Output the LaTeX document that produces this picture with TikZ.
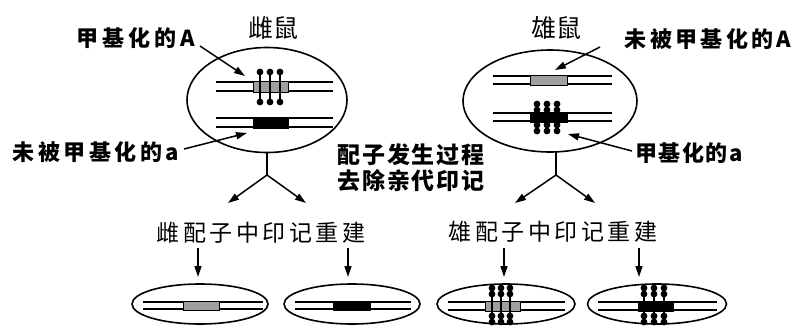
\documentclass[tikz,border=0pt]{standalone}
\usepackage{fontspec}
\usetikzlibrary{shapes.geometric,arrows.meta}
\newfontfamily\cjk{Noto Sans CJK SC}

% chromosome pair: two parallel strands
\newcommand\strands[4]{\draw[strand] (#1,#3) -- (#2,#3) (#1,#4) -- (#2,#4);}
% gene segment on a chromosome pair
\newcommand\gene[5]{\draw[line width=1pt,fill=#5] (#1,#3) rectangle (#2,#4);}
% methyl group column: stem with dots at the given heights
\newcommand\methylcol[3]{\draw[line width=1.3pt] (#1,#2) -- (#1,#3);}
\newcommand\mdot[2]{\fill (#1,#2) circle (3.4);}

\tikzset{
  cell/.style={draw,ellipse,line width=1.6pt,inner sep=0pt},
  strand/.style={line width=1.4pt},
  conn/.style={line width=1.5pt,-{Triangle[length=11pt,width=7pt]}},
  plain/.style={line width=1.5pt},
  tag/.style={inner sep=0pt,font=\cjk\bfseries\fontsize{22}{22}\selectfont},
  title/.style={inner sep=0pt,font=\cjk\fontsize{25}{25}\selectfont},
  note/.style={inner sep=0pt,font=\cjk\fontsize{23}{23}\selectfont},
}

\begin{document}
\begin{tikzpicture}[x=1pt,y=-1pt]
\useasboundingbox (0,0) rectangle (797,329);

% ---------- parent cells ----------
\node[cell,minimum width=160pt,minimum height=105pt] (fcell) at (267,100) {};
\node[cell,minimum width=174pt,minimum height=102pt] (mcell) at (550,101) {};

\node[title] (ftitle) at (273,28) {雌鼠};
\node[title] (mtitle) at (556,28) {雄鼠};

% female: methylated A
\strands{216}{333}{82}{91}
\gene{253}{288}{81}{92}{gray!75}
\foreach \x in {260,270,280}{\methylcol{\x}{72}{102}\mdot{\x}{72}\mdot{\x}{102}}
% female: unmethylated a
\strands{216}{333}{118}{127}
\gene{253}{288}{117}{128}{black}

% male: unmethylated A
\strands{493}{612}{76}{84}
\gene{530}{567}{75}{85}{gray!75}
% male: methylated a
\strands{493}{612}{113}{121}
\gene{530}{567}{112}{122}{black}
\foreach \x in {537,547,557}{\methylcol{\x}{104}{131}\mdot{\x}{104}\mdot{\x}{110}\mdot{\x}{125}\mdot{\x}{131}}

% ---------- labels ----------
\node[tag,font=\cjk\bfseries\fontsize{22}{22}\selectfont\addfontfeature{LetterSpace=18}] (lA) at (136,38) {甲基化的A};
\node[tag,font=\cjk\bfseries\fontsize{22}{22}\selectfont\addfontfeature{LetterSpace=16}] (la) at (96,152) {未被甲基化的a};
\node[tag,font=\cjk\bfseries\fontsize{22}{22}\selectfont\addfontfeature{LetterSpace=15}] (rA) at (708,39) {未被甲基化的A};
\node[tag,font=\cjk\bfseries\fontsize{22}{22}\selectfont\addfontfeature{LetterSpace=7}] (ra) at (689,153) {甲基化的a};

\coordinate (lAs) at (200,46);  \coordinate (lAt) at (245,76);
\coordinate (las) at (184,149); \coordinate (lat) at (247,133);
\coordinate (rAs) at (600,47);  \coordinate (rAt) at (555,70);
\coordinate (ras) at (632,151); \coordinate (rat) at (568,134);
\draw[conn] (lAs) -- (lAt);
\draw[conn] (las) -- (lat);
\draw[conn] (rAs) -- (rAt);
\draw[conn] (ras) -- (rat);

\node[note,font=\cjk\bfseries\fontsize{23}{23}\selectfont\addfontfeature{LetterSpace=8}] (proc1) at (411,155) {配子发生过程};
\node[note,font=\cjk\bfseries\fontsize{23}{23}\selectfont\addfontfeature{LetterSpace=8}] (proc2) at (411,181) {去除亲代印记};

% ---------- branching ----------
\coordinate (fb) at (267,175);
\coordinate (mtop) at (556,152);
\coordinate (mb) at (556,175);
\coordinate (fl) at (228,203); \coordinate (fr) at (306,203);
\coordinate (ml) at (515,203); \coordinate (mr) at (595,203);
\draw[plain] (fcell.south) -- (fb);
\draw[conn] (fb) -- (fl);
\draw[conn] (fb) -- (fr);
\draw[plain] (mtop) -- (mb);
\draw[conn] (mb) -- (ml);
\draw[conn] (mb) -- (mr);

\node[note,font=\cjk\fontsize{23}{23}\selectfont\addfontfeature{LetterSpace=15}] (fgam) at (261,233) {雌配子中印记重建};
\node[note,font=\cjk\fontsize{23}{23}\selectfont\addfontfeature{LetterSpace=15}] (mgam) at (553,232) {雄配子中印记重建};

% ---------- gametes ----------
\node[cell,minimum width=136pt,minimum height=40pt] (g1) at (200,304) {};
\node[cell,minimum width=136pt,minimum height=40pt] (g2) at (352,304) {};
\node[cell,minimum width=138pt,minimum height=40pt] (g3) at (506,304) {};
\node[cell,minimum width=139pt,minimum height=40pt] (g4) at (657,304) {};

\coordinate (a1) at (198,248); \coordinate (a1t) at (198,277);
\coordinate (a2) at (348,248); \coordinate (a2t) at (348,277);
\coordinate (a3) at (504,248); \coordinate (a3t) at (504,277);
\coordinate (a4) at (639,248); \coordinate (a4t) at (639,277);
\draw[conn] (a1) -- (a1t);
\draw[conn] (a2) -- (a2t);
\draw[conn] (a3) -- (a3t);
\draw[conn] (a4) -- (a4t);

\strands{143}{263}{302}{309}
\gene{183}{219}{301}{310}{gray!75}
\strands{295}{411}{302}{309}
\gene{333}{370}{301}{310}{black}
\strands{448}{565}{302}{310}
\gene{485}{520}{301}{311}{gray!75}
\foreach \x in {492,501,510}{\methylcol{\x}{288}{322}\mdot{\x}{288}\mdot{\x}{294}\mdot{\x}{316}\mdot{\x}{322}}
\strands{598}{717}{302}{310}
\gene{638}{673}{301}{311}{black}
\foreach \x in {644,654,664}{\methylcol{\x}{288}{322}\mdot{\x}{288}\mdot{\x}{294}\mdot{\x}{316}\mdot{\x}{322}}
\end{tikzpicture}
\end{document}
